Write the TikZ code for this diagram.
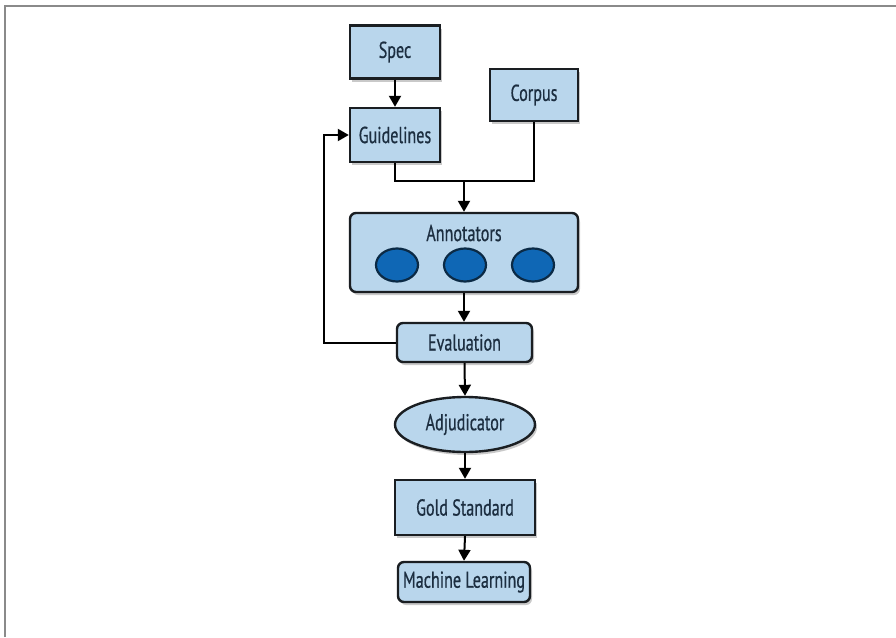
\documentclass[tikz,border=0pt]{standalone}
\usepackage{fontspec}
\setmainfont[FakeStretch=0.7,FakeBold=0.6]{PT Sans}
\usetikzlibrary{arrows.meta,shapes.geometric,shadows}
\definecolor{boxfill}{HTML}{B9D6EC}
\definecolor{boxline}{HTML}{1A1E22}
\definecolor{txt}{HTML}{1C2E40}
\definecolor{blobfill}{HTML}{0F67B5}
\definecolor{blobline}{HTML}{0B2A45}
\definecolor{frame}{HTML}{8A8A8A}
\begin{document}
\begin{tikzpicture}[x=1pt,y=-1pt,
  shad/.style={drop shadow={shadow xshift=2pt,shadow yshift=-3pt,opacity=0.35,fill=black!60}},
  box/.style={draw=boxline,fill=boxfill,line width=2.4pt,inner sep=0pt,text=txt,font=\fontsize{23}{25}\selectfont,shad},
  rbox/.style={box,rounded corners=6pt},
  oval/.style={box,ellipse},
  blob/.style={ellipse,draw=blobline,fill=blobfill,line width=2.2pt,minimum width=42pt,minimum height=33pt,inner sep=0pt},
  conn/.style={draw=black,line width=2pt},
  arr/.style={conn,-{Triangle[width=12pt,length=11pt]}}
]
\useasboundingbox (0,0) rectangle (896,637);
\fill[white] (0,0) rectangle (896,637);
\draw[frame,line width=1.5pt] (5,637) -- (5,6) -- (896,6);

\node[box,minimum width=90pt,minimum height=53pt] (spec) at (395,52) {Spec};
\node[box,minimum width=88pt,minimum height=52pt] (corpus) at (534,95) {Corpus};
\node[box,minimum width=90pt,minimum height=54pt] (guide) at (395,135) {Guidelines};
\node[rbox,minimum width=228pt,minimum height=79pt] (ann) at (464,252.5) {};
\node[text=txt,font=\fontsize{23}{25}\selectfont] (anntitle) at (464,233) {Annotators};
\node[blob] (a1) at (397,265) {};
\node[blob] (a2) at (465,265) {};
\node[blob] (a3) at (533,265) {};
\node[rbox,minimum width=135pt,minimum height=39pt] (eval) at (464.5,342.5) {Evaluation};
\node[oval,minimum width=140pt,minimum height=55pt] (adj) at (465,424.5) {Adjudicator};
\node[box,minimum width=140pt,minimum height=55pt] (gold) at (465,507.5) {Gold Standard};
\node[rbox,minimum width=132pt,minimum height=40pt] (ml) at (464,582) {Machine Learning};

\coordinate (j) at (464,181);
\coordinate (fb) at (324,342.5);

\draw[arr] (spec) -- (guide);
\draw[conn] (guide.south) |- (j);
\draw[conn] (corpus.south) |- (j);
\draw[arr] (j) -- (ann.north);
\draw[arr] (ann.south) -- (ann.south |- eval.north);
\draw[arr] (eval.west) -- (fb) |- (guide.west);
\draw[arr] (eval.south) -- (adj.north);
\draw[arr] (adj.south) -- (gold.north);
\draw[arr] (gold.south) -- (ml.north);
\end{tikzpicture}
\end{document}
